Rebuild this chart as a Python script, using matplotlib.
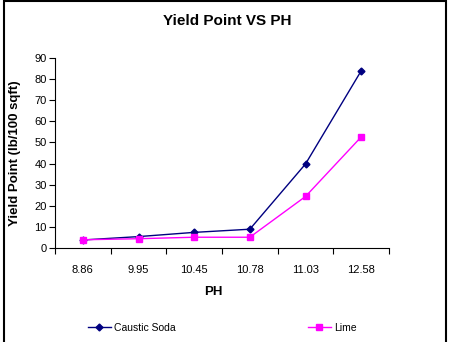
import matplotlib
matplotlib.use("Agg")
import matplotlib.pyplot as plt
from matplotlib.patches import Rectangle

categories = ["8.86", "9.95", "10.45", "10.78", "11.03", "12.58"]
caustic_soda = [3.8, 5.4, 7.4, 8.9, 39.8, 83.9]
lime = [3.9, 4.4, 5.1, 5.1, 24.4, 52.6]
yticks = [0, 10, 20, 30, 40, 50, 60, 70, 80, 90]

plt.rcParams['font.family'] = ['Liberation Sans', 'DejaVu Sans']

W, H = 451, 342
fig = plt.figure(figsize=(W / 100, H / 100), dpi=100)
ax = fig.add_axes([55 / W, 1 - 248 / H, 334 / W, 190 / H])

x = list(range(len(categories)))
l1, = ax.plot(x, caustic_soda, color='#000080', marker='D', markersize=3.5, lw=1, label='Caustic Soda')
l2, = ax.plot(x, lime, color='#FF00FF', marker='s', markersize=4.5, lw=1, label='Lime')

ax.set_xlim(-0.5, len(categories) - 0.5)
ax.set_ylim(0, 90)
ax.set_yticks(yticks)
ax.set_xticks([i - 0.5 for i in range(len(categories) + 1)])
ax.set_xticklabels([])
ax.set_xticks(x, minor=True)
ax.set_xticklabels(categories, minor=True)
ax.tick_params(axis='x', which='major', length=4, width=0.8, direction='out')
ax.tick_params(axis='x', which='minor', length=0, pad=12, labelsize=8)
ax.tick_params(axis='y', length=4, width=0.8, direction='out', labelsize=8, pad=2)

for s in ['top', 'right']:
    ax.spines[s].set_visible(False)
for s in ['left', 'bottom']:
    ax.spines[s].set_linewidth(0.8)

ax.set_xlabel('PH', fontsize=9.5, fontweight='bold', va='center')
ax.xaxis.set_label_coords(0.475, (248 - 292) / 190)
ax.set_ylabel('Yield Point (lb/100 sqft)', fontsize=9.5, fontweight='bold', va='center')
ax.yaxis.set_label_coords((15 - 55) / 334, 0.5)
fig.text(227 / W, 1 - 21 / H, 'Yield Point VS PH', ha='center', va='center', fontsize=11, fontweight='bold')

fig.legend(handles=[l1, l2], loc='center left', bbox_to_anchor=(88 / W, 1 - 328 / H),
           ncol=2, frameon=False, fontsize=7.5, handlelength=2.2, handletextpad=0.3,
           columnspacing=12.7, borderaxespad=0, borderpad=0)

fig.patches.append(Rectangle((3.5 / W, -0.1), (446 - 3.5) / W, 1.1 - 1 / H,
                             transform=fig.transFigure, fill=False, edgecolor='black', lw=1.5))

fig.savefig('out.png', dpi=100)
